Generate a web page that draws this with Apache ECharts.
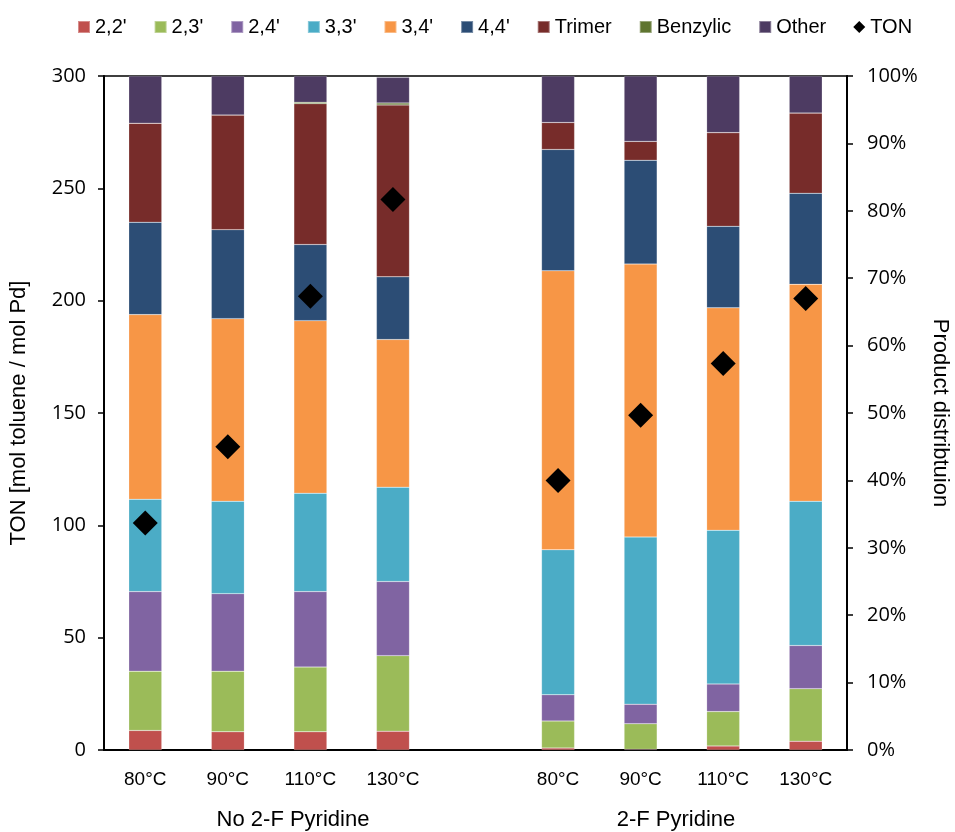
<!DOCTYPE html>
<html>
<head>
<meta charset="utf-8">
<script src="https://cdn.jsdelivr.net/npm/echarts@6/dist/echarts.min.js"></script>
<style>html,body{margin:0;padding:0;background:#fff;}#chart{width:955px;height:832px;}</style>
</head>
<body>
<div id="chart"></div>
<script>
// Categories (empty slot separates the two groups)
var categories = ['80°C','90°C','110°C','130°C','','80°C','90°C','110°C','130°C'];
var groupLabels = ['No 2-F Pyridine','2-F Pyridine'];
// Product distribution (%), per category
var s22  = [2.9, 2.7, 2.7, 2.8, null, 0.3, 0.1, 0.6, 1.3];
var s23  = [8.8, 9.0, 9.6, 11.2, null, 4.0, 3.8, 5.1, 7.8];
var s24  = [11.8, 11.5, 11.2, 11.0, null, 3.9, 2.9, 4.1, 6.4];
var s33  = [13.7, 13.7, 14.6, 14.0, null, 21.5, 24.8, 22.8, 21.4];
var s34  = [27.4, 27.1, 25.6, 21.9, null, 41.4, 40.5, 33.0, 32.2];
var s44  = [13.7, 13.2, 11.3, 9.3, null, 18.0, 15.4, 12.1, 13.5];
var trimer = [14.7, 17.0, 20.9, 25.5, null, 4.0, 2.8, 13.9, 11.9];
var benzylic = [0, 0, 0.2, 0.3, null, 0, 0, 0, 0];
var other = [7.0, 5.8, 3.9, 3.8, null, 6.9, 9.7, 8.4, 5.5];
// TON values
var ton = [101, 135, 202, 245, null, 120, 149, 172, 201];
// Left / right tick settings
var leftMax = 300, leftInterval = 50;
var rightMax = 100, rightInterval = 10;

var seriesNames = ["2,2'","2,3'","2,4'","3,3'","3,4'","4,4'",'Trimer','Benzylic','Other'];
var seriesData = [s22,s23,s24,s33,s34,s44,trimer,benzylic,other];
var colors = ['#C0504D','#9BBB59','#8064A2','#4BACC6','#F79646','#2C4D75','#772C2A','#5F7530','#4D3B62'];

var narrow = "'Liberation Sans Narrow', 'Liberation Sans', sans-serif";
var tickFont = "'Open Sans', sans-serif";

var series = seriesNames.map(function(n, i){
  return {
    name: n, type: 'bar', stack: 'dist', yAxisIndex: 1,
    barWidth: 33,
    itemStyle: {color: colors[i], borderColor: 'rgba(255,255,255,0.35)', borderWidth: 0.5},
    data: seriesData[i]
  };
});
series.push({
  name: 'TON', type: 'scatter', yAxisIndex: 0, symbol: 'diamond', symbolSize: [25, 25],
  itemStyle: {color: '#000', opacity: 1}, data: ton, z: 10
});

var chart = echarts.init(document.getElementById('chart'), null, {renderer: 'canvas'});
chart.setOption({
  animation: false,
  backgroundColor: '#fff',
  grid: {left: 104, right: 108, top: 76, bottom: 82, containLabel: false, outerBoundsMode: 'none',
         show: true, borderColor: '#000', borderWidth: 1.5, backgroundColor: 'transparent'},
  legend: {
    top: 12, left: 72, itemWidth: 12, itemHeight: 12, itemGap: 27,
    textStyle: {fontFamily: narrow, fontSize: 20, color: '#000'},
    data: seriesNames.map(function(n){return {name: n, icon: 'rect'};}).concat([{name: 'TON', icon: 'diamond', itemStyle: {color: '#000', opacity: 1}}])
  },
  xAxis: {
    type: 'category', data: categories,
    axisLine: {lineStyle: {color: '#000', width: 2}},
    axisTick: {show: false},
    axisLabel: {fontFamily: narrow, fontSize: 19, color: '#000', margin: 20, interval: 0}
  },
  yAxis: [
    {
      type: 'value', min: 0, max: leftMax, interval: leftInterval, position: 'left',
      name: 'TON [mol toluene / mol Pd]', nameLocation: 'middle', nameGap: 74, nameRotate: 90,
      nameTextStyle: {fontFamily: narrow, fontSize: 22, color: '#000'},
      axisLine: {show: true, lineStyle: {color: '#000', width: 2}},
      axisTick: {show: true, length: 6, lineStyle: {color: '#000', width: 1.5}},
      axisLabel: {fontFamily: tickFont, fontSize: 20, color: '#000', margin: 18},
      splitLine: {show: false}
    },
    {
      type: 'value', min: 0, max: rightMax, interval: rightInterval, position: 'right',
      name: 'Product distribtuion', nameLocation: 'middle', nameGap: 82, nameRotate: -90,
      nameTextStyle: {fontFamily: narrow, fontSize: 22, color: '#000'},
      axisLine: {show: true, lineStyle: {color: '#000', width: 2}},
      axisTick: {show: true, length: 6, lineStyle: {color: '#000', width: 1.5}},
      axisLabel: {fontFamily: tickFont, fontSize: 20, color: '#000', margin: 20, formatter: '{value}%'},
      splitLine: {show: false}
    }
  ],
  graphic: [
    {type: 'text', x: 293, y: 820, style: {text: groupLabels[0], font: "22px 'Liberation Sans Narrow', 'Liberation Sans', sans-serif", fill: '#000', textAlign: 'center', textVerticalAlign: 'middle'}},
    {type: 'text', x: 676, y: 820, style: {text: groupLabels[1], font: "22px 'Liberation Sans Narrow', 'Liberation Sans', sans-serif", fill: '#000', textAlign: 'center', textVerticalAlign: 'middle'}}
  ],
  series: series
});
</script>
</body>
</html>
